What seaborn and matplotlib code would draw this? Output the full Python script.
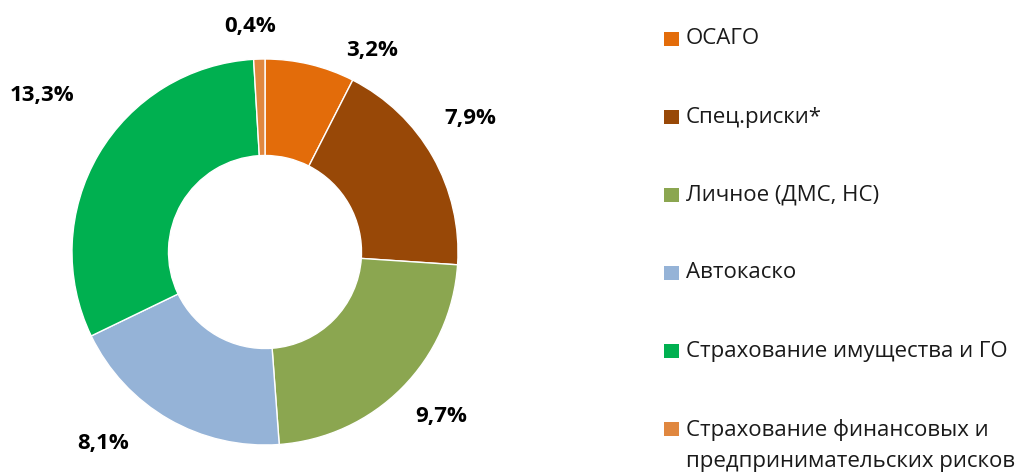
import matplotlib
matplotlib.use("Agg")
import matplotlib.pyplot as plt
from matplotlib.patches import Rectangle
import seaborn as sns
import numpy as np

# data
categories = [
    "ОСАГО",
    "Спец.риски*",
    "Личное (ДМС, НС)",
    "Автокаско",
    "Страхование имущества и ГО",
    "Страхование финансовых и\nпредпринимательских рисков",
]
values = [3.2, 7.9, 9.7, 8.1, 13.3, 0.4]
hex_colors = ["#E36C0A", "#984807", "#8BA650", "#95B3D7", "#00B050", "#E0873F"]

# label placement: radial distance and angle shift from wedge middle (deg)
label_dist = [1.18, 1.27, 1.25, 1.30, 1.41, 1.17]
label_shift = [-14.5, 3.4, 1.8, -10.3, -4.6, 2.1]

sns.set_theme(style="white")
plt.rcParams["font.family"] = ["Open Sans", "DejaVu Sans"]

W, H = 1029, 472
fig = plt.figure(figsize=(W / 100, H / 100), dpi=100)
fig.patch.set_facecolor("white")

# pie axes placed in pixels: center (265, 252), radius 193
cx, cy, r = 265, H - 252, 193
ax = fig.add_axes([(cx - r) / W, (cy - r) / H, 2 * r / W, 2 * r / H])

colors = sns.color_palette(hex_colors)
wedges, _ = ax.pie(values, colors=colors, startangle=90, counterclock=False,
                   radius=1, wedgeprops=dict(width=0.5, edgecolor="white", linewidth=1))
ax.set_xlim(-1, 1)
ax.set_ylim(-1, 1)
ax.axis("off")

for w, v, d, s in zip(wedges, values, label_dist, label_shift):
    ang = np.deg2rad((w.theta1 + w.theta2) / 2 + s)
    txt = f"{v:.1f}%".replace(".", ",")
    ax.text(d * np.cos(ang), d * np.sin(ang), txt, ha="center", va="center",
            fontsize=16, fontweight="bold", color="black")

# legend, drawn by hand so the wrapped label keeps its box on the first line
leg_x, leg_y0, leg_step = 664, 39, 78
for i, (cat, col) in enumerate(zip(categories, colors)):
    yc = leg_y0 + i * leg_step
    fig.add_artist(Rectangle(((leg_x) / W, (H - yc - 7) / H), 15 / W, 14 / H,
                             transform=fig.transFigure, facecolor=col, edgecolor="none"))
    fig.text((leg_x + 22) / W, (H - yc) / H, cat, ha="left",
             va="center" if "\n" not in cat else "top",
             fontsize=16, color="#1a1a1a", linespacing=1.65)

# nudge the two-line label so its first line sits on the box
fig.texts[-1].set_y((H - leg_y0 - 5 * leg_step + 10) / H)

fig.savefig("out.png", dpi=100, facecolor="white")
